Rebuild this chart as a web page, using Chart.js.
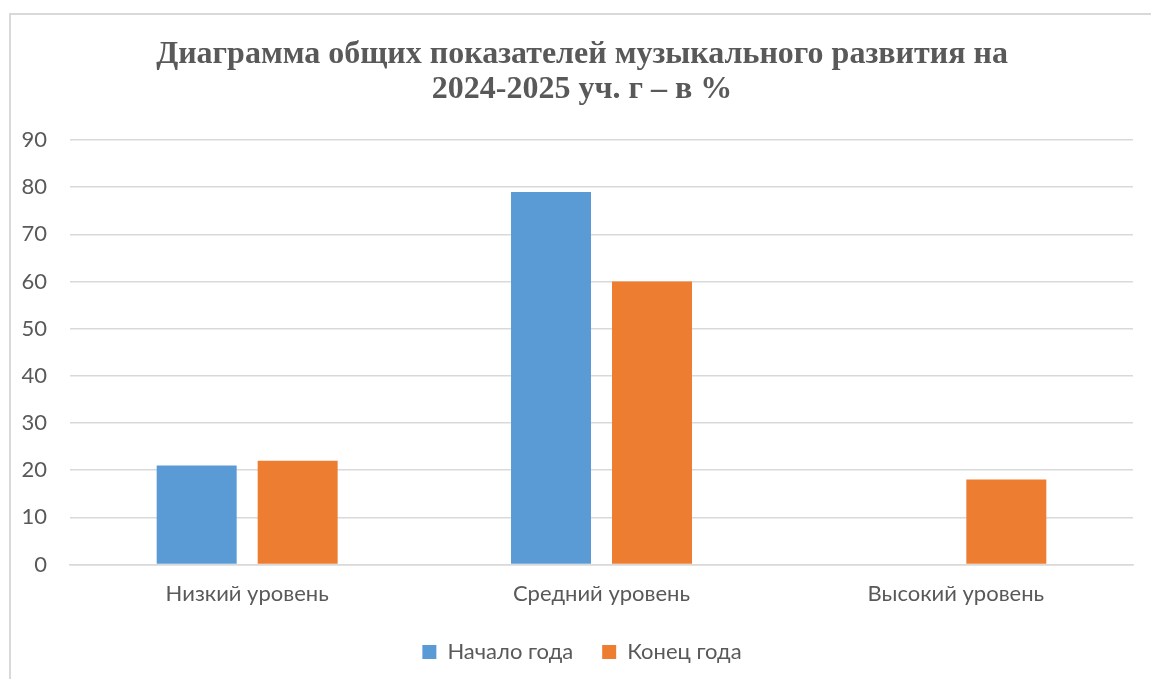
<!DOCTYPE html>
<html>
<head>
<meta charset="utf-8">
<script src="https://cdn.jsdelivr.net/npm/chart.js@4.4.1/dist/chart.umd.min.js"></script>
<style>
  html, body { margin: 0; padding: 0; background: #fff; overflow: hidden; }
  #ramka { position: absolute; left: 9px; top: 13px; width: 1200px; height: 720px; border: 2px solid #d9d9d9; }
  #grafik { position: absolute; left: 0; top: 0; }
</style>
</head>
<body>
<div id="ramka"></div>
<canvas id="grafik" width="1151" height="673"></canvas>
<script>
// Данные диаграммы
const kategorii = ['Низкий уровень', 'Средний уровень', 'Высокий уровень'];
const nachaloGoda = [21, 79, 0];
const konecGoda = [22, 60, 18];
const nazvaniyaSeriy = ['Начало года', 'Конец года'];
const zagolovok = ['Диаграмма общих показателей музыкального развития на', '2024-2025 уч. г – в %'];

const tsvetTeksta = '#595959';
const shrift = 'Lato, "Open Sans", sans-serif';

// подписи оси Y не должны обрезаться по левому краю оси
const bezObrezki = {
    id: 'bezObrezki',
    afterLayout(chart) { chart.scales.y.left = 0; }
};

const ctx = document.getElementById('grafik').getContext('2d');
new Chart(ctx, {
    type: 'bar',
    data: {
        labels: kategorii,
        datasets: [
            { label: nazvaniyaSeriy[0], data: nachaloGoda, backgroundColor: '#5B9BD5' },
            { label: nazvaniyaSeriy[1], data: konecGoda, backgroundColor: '#ED7D31' }
        ]
    },
    plugins: [bezObrezki],
    options: {
        responsive: false,
        animation: false,
        categoryPercentage: 0.57,
        barPercentage: 0.792,
        layout: { padding: { left: 31, right: 18, top: 0, bottom: 0 } },
        plugins: {
            title: {
                display: true,
                text: zagolovok,
                color: tsvetTeksta,
                font: { family: '"Liberation Serif", "Times New Roman", serif', size: 32, weight: 'bold', lineHeight: 1.1 },
                padding: { top: 37, bottom: 32.6 }
            },
            legend: {
                position: 'bottom',
                labels: {
                    boxWidth: 14,
                    boxHeight: 14,
                    padding: 29,
                    color: tsvetTeksta,
                    font: { family: shrift, size: 22 }
                }
            },
            tooltip: { enabled: false }
        },
        scales: {
            x: {
                grid: { display: false },
                border: { color: '#d9d9d9', width: 1.5 },
                ticks: { color: tsvetTeksta, padding: 8, font: { family: shrift, size: 22 } },
                afterFit: (scale) => { scale.height = 47.5; }
            },
            y: {
                min: 0,
                max: 90,
                ticks: { stepSize: 10, color: tsvetTeksta, padding: 23, font: { family: shrift, size: 22 } },
                grid: { color: '#d9d9d9', lineWidth: 1.5, drawTicks: false },
                border: { display: false },
                afterFit: (scale) => { scale.width = 39; }
            }
        }
    }
});
</script>
</body>
</html>
